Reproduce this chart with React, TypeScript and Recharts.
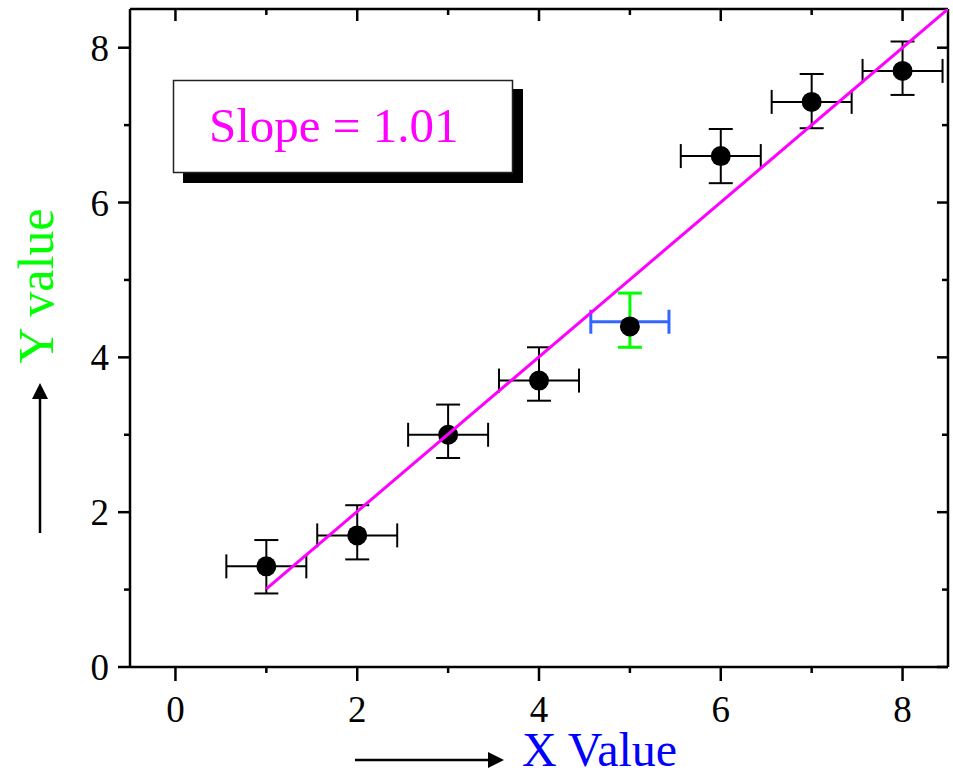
import React from 'react';
import { ScatterChart, Scatter, XAxis, YAxis, ErrorBar } from 'recharts';

// measured points (black)
const xValues = [1, 2, 3, 4, 6, 7, 8];
const yValues = [1.3, 1.7, 3.0, 3.7, 6.6, 7.3, 7.7];
const xErrors = [0.44, 0.44, 0.44, 0.44, 0.44, 0.44, 0.44];
const yErrLow = [0.35, 0.31, 0.3, 0.26, 0.35, 0.34, 0.31];
const yErrHigh = [0.34, 0.39, 0.39, 0.43, 0.35, 0.36, 0.38];

// highlighted point with coloured error bars
const hiX = [5];
const hiY = [4.4];
const hiBarY = [4.46];
const hiXErr = [0.43];
const hiYErr = [[0.33, 0.37]];

// fitted line
const fitX = [1, 8.5];
const fitY = [1.01, 8.5];

const axisTicks = [0, 1, 2, 3, 4, 5, 6, 7, 8];
const slopeText = 'Slope = 1.01';

const FONT = '"Liberation Serif", "Times New Roman", Times, serif';

const points = xValues.map((x, i) => ({ x, y: yValues[i], ex: xErrors[i], ey: [yErrLow[i], yErrHigh[i]] }));
const hiPoint = hiX.map((x, i) => ({ x, y: hiY[i] }));
const hiBars = hiX.map((x, i) => ({ x, y: hiBarY[i], ex: hiXErr[i], ey: hiYErr[i] }));
const fitLine = fitX.map((x, i) => ({ x, y: fitY[i] }));

const isMajor = (v: number) => v % 2 === 0;

const BottomTick = ({ x, y, payload }: any) => (
  <g>
    <line x1={x} y1={y} x2={x} y2={y + (isMajor(payload.value) ? 14 : 6)} stroke="#000" strokeWidth={2.5} />
    {isMajor(payload.value) && (
      <text x={x} y={y + 55} textAnchor="middle" fontSize={37} fontFamily={FONT} fill="#000">
        {payload.value}
      </text>
    )}
  </g>
);

const TopTick = ({ x, y, payload }: any) => (
  <line x1={x} y1={y} x2={x} y2={y + (isMajor(payload.value) ? 12 : 6)} stroke="#000" strokeWidth={2.5} />
);

const LeftTick = ({ x, y, payload }: any) => (
  <g>
    <line x1={x} y1={y} x2={x - (isMajor(payload.value) ? 12 : 6)} y2={y} stroke="#000" strokeWidth={2.5} />
    {isMajor(payload.value) && (
      <text x={x - 21} y={y + 13} textAnchor="end" fontSize={37} fontFamily={FONT} fill="#000">
        {payload.value}
      </text>
    )}
  </g>
);

const RightTick = ({ x, y, payload }: any) => (
  <line x1={x} y1={y} x2={x - (isMajor(payload.value) ? 11 : 6)} y2={y} stroke="#000" strokeWidth={2.5} />
);

const XTitle = () => (
  <g>
    <line x1={355} y1={760} x2={490} y2={760} stroke="#000" strokeWidth={2.5} />
    <polygon points="504,760 488,752 488,768" fill="#000" />
    <text x={522} y={766} fontSize={48} fontFamily={FONT} fill="#0000ff">
      X Value
    </text>
  </g>
);

const YTitle = () => (
  <g>
    <line x1={40} y1={533} x2={40} y2={396} stroke="#000" strokeWidth={2.5} />
    <polygon points="40,383 32,399 48,399" fill="#000" />
    <text
      x={53}
      y={286}
      transform="rotate(-90 53 286)"
      textAnchor="middle"
      fontSize={50}
      fontFamily={FONT}
      fill="#00ff00"
    >
      Y value
    </text>
  </g>
);

const NoShape = () => <g />;

export default function App() {
  return (
    <div style={{ position: 'absolute', left: 0, top: 0, width: 953, height: 777, background: '#fff' }}>
      <ScatterChart width={953} height={777} margin={{ top: 4, right: 0, bottom: 0, left: 0 }}>
        <XAxis
          xAxisId="b"
          dataKey="x"
          type="number"
          domain={[-0.5, 8.5]}
          allowDataOverflow
          ticks={axisTicks}
          interval={0}
          height={110}
          tickSize={0}
          tickMargin={0}
          tickLine={false}
          tick={BottomTick}
          axisLine={{ stroke: '#000', strokeWidth: 2.5 }}
          label={{ content: () => <XTitle /> }}
        />
        <XAxis
          xAxisId="t"
          orientation="top"
          dataKey="x"
          type="number"
          domain={[-0.5, 8.5]}
          allowDataOverflow
          ticks={axisTicks}
          interval={0}
          height={5}
          tickSize={0}
          tickMargin={0}
          tickLine={false}
          tick={TopTick}
          axisLine={{ stroke: '#000', strokeWidth: 2.5 }}
        />
        <YAxis
          yAxisId="l"
          dataKey="y"
          type="number"
          domain={[0, 8.5]}
          allowDataOverflow
          ticks={axisTicks}
          interval={0}
          width={130}
          tickSize={0}
          tickMargin={0}
          tickLine={false}
          tick={LeftTick}
          axisLine={{ stroke: '#000', strokeWidth: 2.5 }}
          label={{ content: () => <YTitle /> }}
        />
        <YAxis
          yAxisId="r"
          orientation="right"
          dataKey="y"
          type="number"
          domain={[0, 8.5]}
          allowDataOverflow
          ticks={axisTicks}
          interval={0}
          width={5}
          tickSize={0}
          tickMargin={0}
          tickLine={false}
          tick={RightTick}
          axisLine={{ stroke: '#000', strokeWidth: 2.5 }}
        />
        <Scatter
          xAxisId="b"
          yAxisId="l"
          data={points}
          fill="#000"
          shape={(p: any) => <circle cx={p.cx} cy={p.cy} r={10} fill="#000" />}
          isAnimationActive={false}
        >
          <ErrorBar dataKey="ex" direction="x" width={12} stroke="#000" strokeWidth={2} />
          <ErrorBar dataKey="ey" direction="y" width={12} stroke="#000" strokeWidth={2} />
        </Scatter>
        <Scatter
          xAxisId="b"
          yAxisId="l"
          data={hiPoint}
          fill="#000"
          shape={(p: any) => <circle cx={p.cx} cy={p.cy} r={10} fill="#000" />}
          isAnimationActive={false}
        />
        <Scatter xAxisId="b" yAxisId="l" data={hiBars} shape={NoShape} isAnimationActive={false}>
          <ErrorBar dataKey="ey" direction="y" width={12} stroke="#00ff00" strokeWidth={3} />
          <ErrorBar dataKey="ex" direction="x" width={12} stroke="#3366ff" strokeWidth={3} />
        </Scatter>
        <Scatter
          xAxisId="b"
          yAxisId="l"
          data={fitLine}
          line={{ stroke: '#ff00ff', strokeWidth: 3 }}
          shape={NoShape}
          isAnimationActive={false}
        />
      </ScatterChart>
      <svg width={953} height={777} style={{ position: 'absolute', left: 0, top: 0, pointerEvents: 'none' }}>
        <rect x={183} y={89} width={340} height={94} fill="#000" />
        <rect x={173.5} y={80.5} width={339} height={92} fill="#fff" stroke="#222" strokeWidth={1.5} />
        <text x={209} y={142} fontSize={49} fontFamily={FONT} fill="#ff00ff">
          {slopeText}
        </text>
      </svg>
    </div>
  );
}
